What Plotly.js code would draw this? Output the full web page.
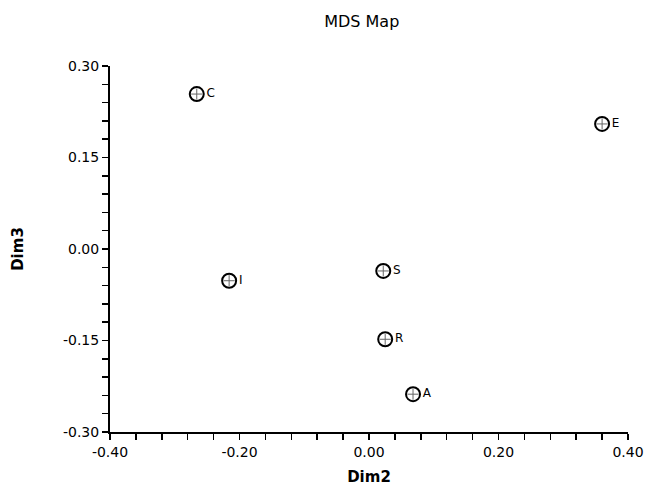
<!DOCTYPE html>
<html>
<head>
<meta charset="utf-8">
<script src="https://cdn.plot.ly/plotly-3.0.1.min.js"></script>
<style>html,body{margin:0;padding:0;background:#fff;}#chart{width:646px;height:493px;}</style>
</head>
<body>
<div id="chart"></div>
<script>
const labels = ["C", "E", "I", "S", "R", "A"];
const dim2 = [-0.266, 0.360, -0.216, 0.022, 0.025, 0.068];
const dim3 = [0.254, 0.205, -0.052, -0.036, -0.148, -0.238];
const xTicks = [-0.40, -0.20, 0.00, 0.20, 0.40];
const yTicks = [-0.30, -0.15, 0.00, 0.15, 0.30];

const font = "DejaVu Sans, Arial, sans-serif";

const traces = [
  {
    x: dim2, y: dim3, text: labels, mode: "markers+text", type: "scatter",
    textposition: "middle right",
    textfont: {family: font, size: 12, color: "#000"},
    marker: {symbol: "circle-open", size: 14, color: "#000", line: {width: 2, color: "#000"}},
    cliponaxis: false, hoverinfo: "skip"
  },
  {
    x: dim2, y: dim3, mode: "markers", type: "scatter",
    marker: {symbol: "cross-thin-open", size: 8, color: "#666", line: {width: 1, color: "#666"}},
    cliponaxis: false, hoverinfo: "skip"
  }
];

const axisCommon = {
  showgrid: false, zeroline: false, showline: true, linecolor: "#000", linewidth: 2,
  ticks: "outside", ticklen: 6, tickwidth: 1.5, tickcolor: "#000",
  tickfont: {family: font, size: 14, color: "#000"},
  tickformat: ".2f", fixedrange: true
};

const layout = {
  width: 646, height: 493,
  margin: {l: 110, r: 18, t: 66, b: 61},
  paper_bgcolor: "#fff", plot_bgcolor: "#fff",
  showlegend: false,
  title: {text: "MDS Map", font: {family: font, size: 16, color: "#000"}, x: 0.56, xanchor: "center", y: 0.957, yanchor: "middle"},
  xaxis: Object.assign({}, axisCommon, {
    range: [-0.4, 0.4], tickvals: xTicks, ticktext: xTicks.map(v => v.toFixed(2)),
    minor: {dtick: 0.04, tick0: -0.4, ticks: "outside", ticklen: 6, tickwidth: 1.5, tickcolor: "#000"},
    title: {text: "<b>Dim2</b>", font: {family: font, size: 15, color: "#000"}, standoff: 13}
  }),
  yaxis: Object.assign({}, axisCommon, {
    range: [-0.3, 0.3], tickvals: yTicks, ticktext: yTicks.map(v => v.toFixed(2)),
    minor: {dtick: 0.03, tick0: -0.3, ticks: "outside", ticklen: 6, tickwidth: 1.5, tickcolor: "#000"},
    title: {text: "<b>Dim3</b>", font: {family: font, size: 15, color: "#000"}, standoff: 36}
  })
};

Plotly.newPlot("chart", traces, layout, {displayModeBar: false, staticPlot: true});
</script>
</body>
</html>
